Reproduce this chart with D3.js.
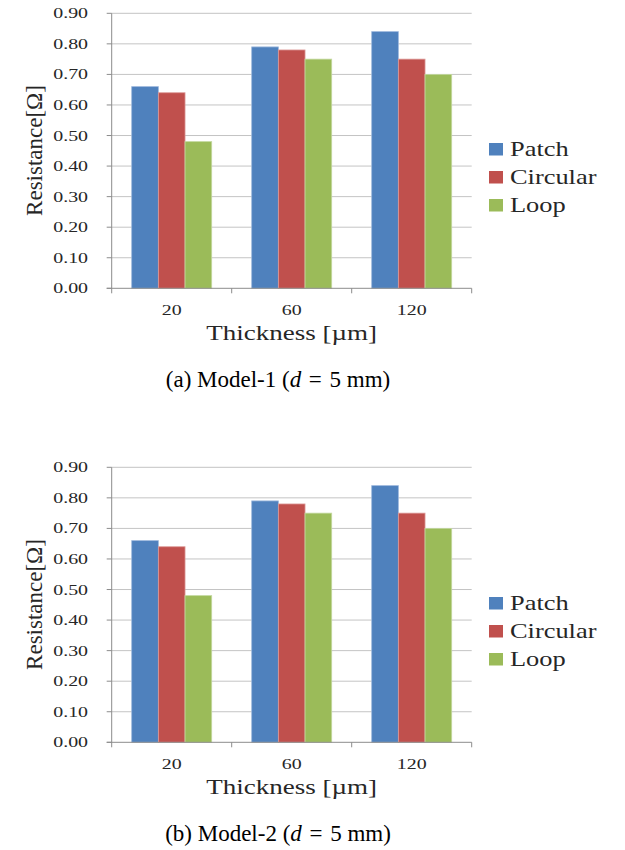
<!DOCTYPE html>
<html>
<head>
<meta charset="utf-8">
<script src="https://cdn.jsdelivr.net/npm/d3@7"></script>
<style>
  body { margin: 0; background: #fff; }
  svg { display: block; }
  .tick-label { font-family: 'Liberation Serif', 'Times New Roman', serif; font-size: 14.5px; fill: #262626; }
  .axis-title { font-family: 'Liberation Serif', 'Times New Roman', serif; fill: #262626; }
  .legend-label { font-family: 'Liberation Serif', 'Times New Roman', serif; font-size: 22px; fill: #262626; }
  .caption { font-family: 'Liberation Serif', 'Times New Roman', serif; font-size: 23px; fill: #000; }
</style>
</head>
<body>
<script>
// data
const categories = ['20', '60', '120'];
const series = ['Patch', 'Circular', 'Loop'];
const patch = [0.66, 0.79, 0.84];
const circular = [0.64, 0.78, 0.75];
const loop = [0.48, 0.75, 0.70];
const yTicks = [0, 0.1, 0.2, 0.3, 0.4, 0.5, 0.6, 0.7, 0.8, 0.9];
const captions = ['(a) Model-1', '(b) Model-2'];

const colors = { Patch: '#4f81bd', Circular: '#c0504d', Loop: '#9bbb59' };
const edges = { Patch: '#9db8dc', Circular: '#dc9a98', Loop: '#c3d89f' };

// svg params
const svgW = 625;
const svgH = 850;
const chartOffset = 454;
const plotX = [111.7, 471.7];
const plotY = [13.3, 288.3];

const svg = d3.select('body').append('svg').attr('width', svgW).attr('height', svgH);

const x = d3.scaleBand().domain(categories).range(plotX);
const xInner = d3.scaleBand().domain(series).range([20, 100]);
const y = d3.scaleLinear().domain([0, 0.9]).range([plotY[1], plotY[0]]);

const values = { Patch: patch, Circular: circular, Loop: loop };

const drawChart = (g, caption) => {
	// gridlines + y ticks
	g.selectAll('line.grid')
		.data(yTicks.slice(1))
		.join('line')
		.attr('x1', plotX[0])
		.attr('x2', plotX[1])
		.attr('y1', (d) => y(d))
		.attr('y2', (d) => y(d))
		.attr('stroke', '#c4c4c4')
		.attr('stroke-width', 1);

	g.selectAll('line.ytick')
		.data(yTicks)
		.join('line')
		.attr('x1', plotX[0] - 5)
		.attr('x2', plotX[0])
		.attr('y1', (d) => y(d))
		.attr('y2', (d) => y(d))
		.attr('stroke', '#8c8c8c');

	g.selectAll('text.ylab')
		.data(yTicks)
		.join('text')
		.attr('class', 'tick-label')
		.attr('text-anchor', 'end')
		.attr('dy', '0.35em')
		.attr('transform', (d) => 'translate(88,' + y(d) + ') scale(1.37,1)')
		.text((d) => d3.format('.2f')(d));

	// bars
	series.forEach((s) => {
		g.selectAll('rect.bar-' + s)
			.data(values[s])
			.join('rect')
			.attr('x', (d, i) => x(categories[i]) + xInner(s))
			.attr('y', (d) => y(d))
			.attr('width', xInner.bandwidth())
			.attr('height', (d) => y(0) - y(d))
			.attr('fill', colors[s])
			.attr('stroke', edges[s])
			.attr('stroke-width', 0.8);
	});

	// axes lines
	g.append('line')
		.attr('x1', plotX[0]).attr('x2', plotX[0])
		.attr('y1', plotY[0]).attr('y2', plotY[1])
		.attr('stroke', '#8c8c8c');
	g.append('line')
		.attr('x1', plotX[0] - 5).attr('x2', plotX[1])
		.attr('y1', plotY[1]).attr('y2', plotY[1])
		.attr('stroke', '#8c8c8c');

	// x ticks at band edges
	const xEdges = categories.map((c) => x(c)).concat([ plotX[1] ]);
	g.selectAll('line.xtick')
		.data(xEdges)
		.join('line')
		.attr('x1', (d) => d)
		.attr('x2', (d) => d)
		.attr('y1', plotY[1])
		.attr('y2', plotY[1] + 5)
		.attr('stroke', '#8c8c8c');

	g.selectAll('text.xlab')
		.data(categories)
		.join('text')
		.attr('class', 'tick-label')
		.attr('text-anchor', 'middle')
		.attr('transform', (d) => 'translate(' + (x(d) + x.bandwidth() / 2) + ',315) scale(1.37,1)')
		.text((d) => d);

	// axis titles
	g.append('text')
		.attr('class', 'axis-title')
		.attr('text-anchor', 'middle')
		.style('font-size', '20px')
		.attr('transform', 'translate(' + (plotX[0] + plotX[1]) / 2 + ',340) scale(1.35,1)')
		.text('Thickness [\u00b5m]');

	g.append('text')
		.attr('class', 'axis-title')
		.attr('text-anchor', 'middle')
		.style('font-size', '23px')
		.attr('transform', 'translate(42,150.5) rotate(-90)')
		.text('Resistance[\u03a9]');

	// legend
	series.forEach((s, si) => {
		const ly = 156 + si * 28;
		g.append('rect')
			.attr('x', 489)
			.attr('y', ly - 13)
			.attr('width', 14)
			.attr('height', 12.5)
			.attr('fill', colors[s]);
		g.append('text')
			.attr('class', 'legend-label')
			.attr('transform', 'translate(510,' + ly + ') scale(1.2,1)')
			.text(s);
	});

	// caption
	const cap = g.append('text')
		.attr('class', 'caption')
		.attr('text-anchor', 'middle')
		.attr('x', 278)
		.attr('y', 387);
	cap.append('tspan').text(caption + ' (');
	cap.append('tspan').style('font-style', 'italic').text('d');
	cap.append('tspan').text('\u2004=\u20045 mm)');
};

captions.forEach((c, ci) => {
	const g = svg.append('g').attr('transform', 'translate(0,' + ci * chartOffset + ')');
	drawChart(g, c);
});
</script>
</body>
</html>
